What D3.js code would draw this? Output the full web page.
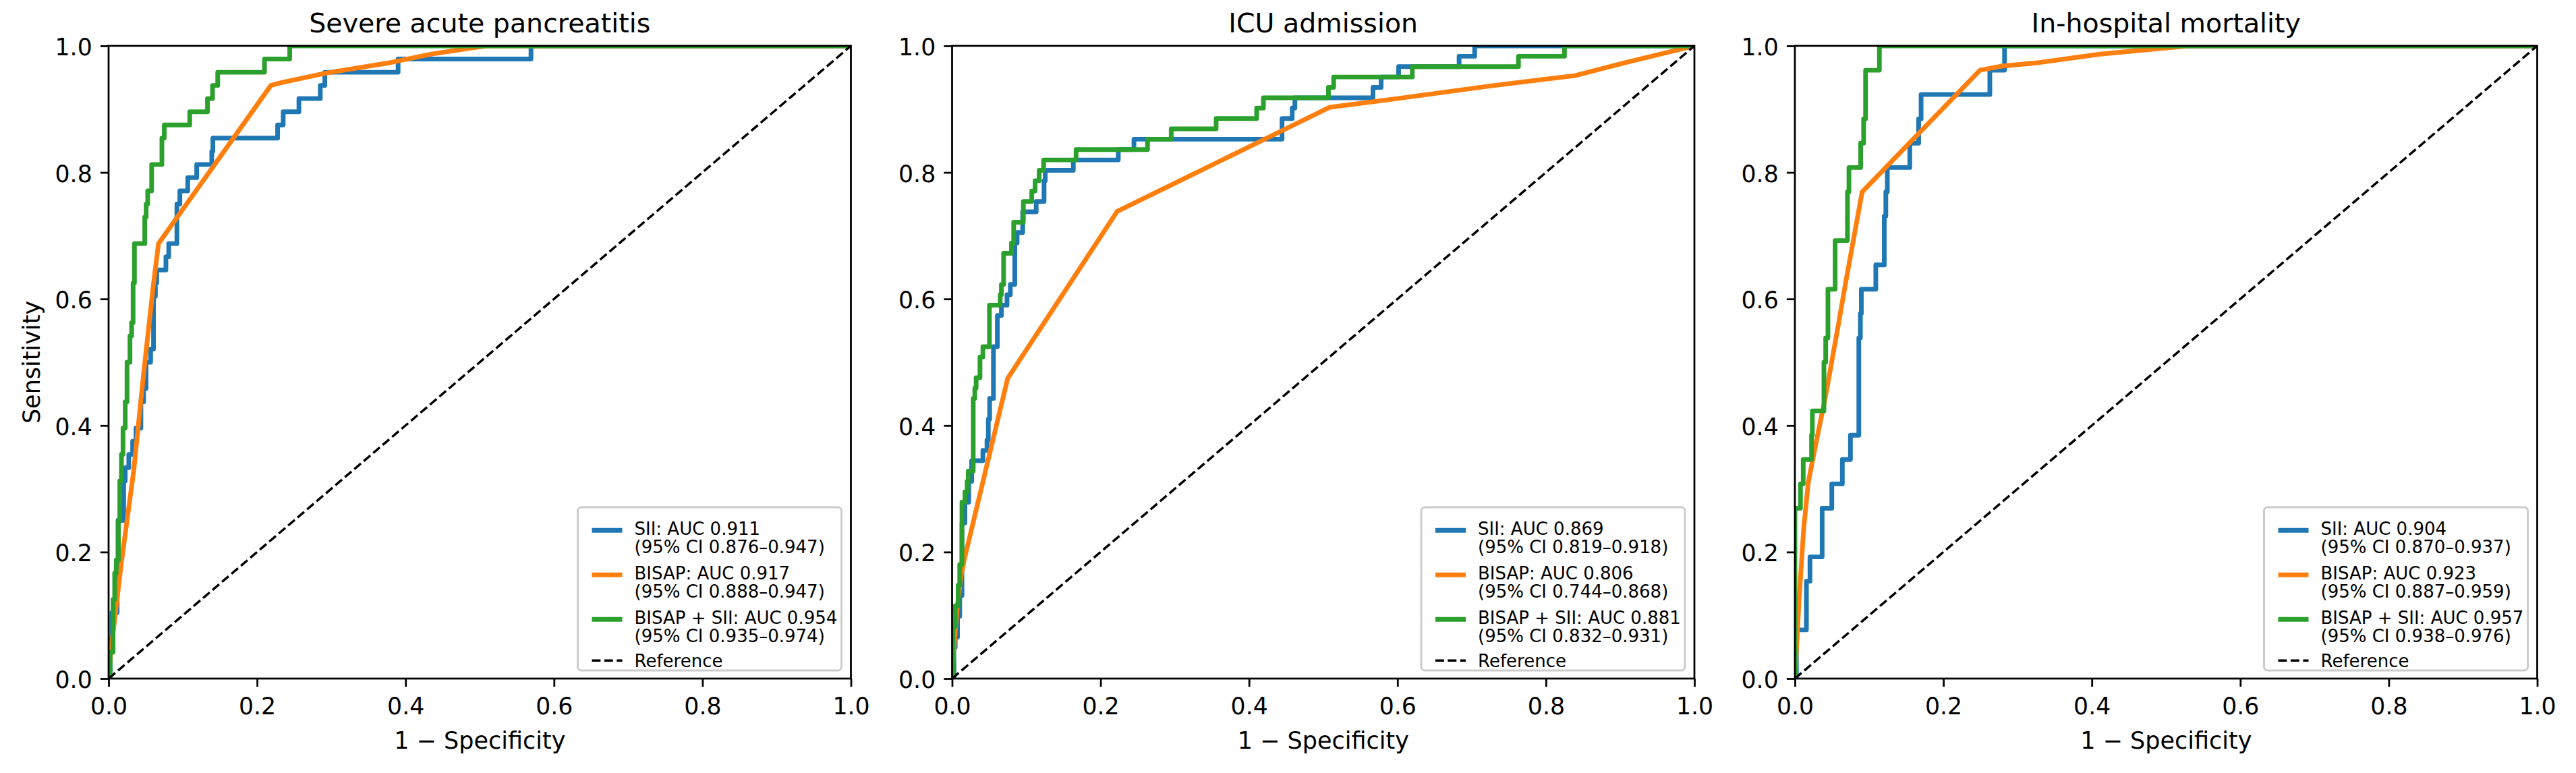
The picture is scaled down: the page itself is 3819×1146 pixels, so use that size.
<!DOCTYPE html>
<html><head><meta charset="utf-8">
<script src="https://cdn.jsdelivr.net/npm/d3@7"></script>
<style>
html,body{margin:0;padding:0;background:#fff;}
svg{display:block;font-family:"DejaVu Sans";}
</style>
</head><body>
<svg id="chart" width="3819" height="1146"></svg>
<script>
// ---------------- DATA ----------------
const panelTitles = ["Severe acute pancreatitis", "ICU admission", "In-hospital mortality"];
const tickValues = [0, 0.2, 0.4, 0.6, 0.8, 1.0];
const tickLabels = ["0.0", "0.2", "0.4", "0.6", "0.8", "1.0"];
const seriesNames = ["SII", "BISAP", "BISAP + SII"];
const seriesColors = ["#1f77b4", "#ff7f0e", "#2ca02c"];
const referenceLine = [[0, 0], [1, 1]];

// Severe acute pancreatitis: [1 - specificity, sensitivity]
const sapSII = [[0,0],[0.0021,0],[0.0021,0.0625],[0.0045,0.0625],[0.0045,0.1042],[0.0115,0.1042],[0.0115,0.1458],[0.0127,0.1458],[0.0127,0.25],[0.0203,0.25],[0.0203,0.3125],[0.0224,0.3125],[0.0224,0.3333],[0.0272,0.3333],[0.0272,0.3542],[0.0324,0.3542],[0.0324,0.375],[0.0369,0.375],[0.0369,0.3958],[0.0435,0.3958],[0.0435,0.4375],[0.0472,0.4375],[0.0472,0.4583],[0.0505,0.4583],[0.0505,0.5],[0.0566,0.5],[0.0566,0.5208],[0.0605,0.5208],[0.0605,0.6042],[0.063,0.6042],[0.063,0.625],[0.0648,0.625],[0.0648,0.6458],[0.0772,0.6458],[0.0772,0.6667],[0.081,0.6667],[0.081,0.6875],[0.092,0.6875],[0.092,0.75],[0.096,0.75],[0.096,0.7708],[0.1066,0.7708],[0.1066,0.7917],[0.1187,0.7917],[0.1187,0.8125],[0.139,0.8125],[0.139,0.8333],[0.1405,0.8333],[0.1405,0.8542],[0.2277,0.8542],[0.2277,0.875],[0.2352,0.875],[0.2352,0.8958],[0.2564,0.8958],[0.2564,0.9167],[0.2852,0.9167],[0.2852,0.9375],[0.2913,0.9375],[0.2913,0.9583],[0.39,0.9583],[0.39,0.9792],[0.569,0.9792],[0.569,1],[1,1]];
const sapBISAP = [[0,0],[0.0036,0.049],[0.0173,0.184],[0.034,0.33],[0.047,0.48],[0.0602,0.621],[0.0672,0.6875],[0.2186,0.9375],[0.2322,0.9417],[0.2928,0.957],[0.3745,0.9725],[0.435,0.987],[0.508,1],[1,1]];
const sapCombo = [[0,0],[0.0021,0],[0.0021,0.0417],[0.006,0.0417],[0.006,0.125],[0.0082,0.125],[0.0082,0.1667],[0.0103,0.1667],[0.0103,0.1875],[0.0133,0.1875],[0.0133,0.25],[0.0151,0.25],[0.0151,0.3125],[0.0173,0.3125],[0.0173,0.3542],[0.0194,0.3542],[0.0194,0.3958],[0.0224,0.3958],[0.0224,0.4375],[0.0248,0.4375],[0.0248,0.5],[0.0288,0.5],[0.0288,0.5417],[0.031,0.5417],[0.031,0.5625],[0.033,0.5625],[0.033,0.625],[0.0348,0.625],[0.0348,0.6875],[0.0487,0.6875],[0.0487,0.7292],[0.0506,0.7292],[0.0506,0.75],[0.0527,0.75],[0.0527,0.7708],[0.058,0.7708],[0.058,0.8125],[0.0718,0.8125],[0.0718,0.8542],[0.075,0.8542],[0.075,0.875],[0.1093,0.875],[0.1093,0.8958],[0.1332,0.8958],[0.1332,0.9167],[0.14,0.9167],[0.14,0.9375],[0.147,0.9375],[0.147,0.9583],[0.21,0.9583],[0.21,0.9792],[0.244,0.9792],[0.244,1],[1,1]];

// ICU admission
const icuSII = [[0,0],[0.0025,0],[0.0025,0.0492],[0.0042,0.0492],[0.0042,0.0656],[0.0073,0.0656],[0.0073,0.0984],[0.0103,0.0984],[0.0103,0.1311],[0.0133,0.1311],[0.0133,0.2459],[0.0173,0.2459],[0.0173,0.2787],[0.0224,0.2787],[0.0224,0.3115],[0.0264,0.3115],[0.0264,0.3443],[0.0415,0.3443],[0.0415,0.3607],[0.047,0.3607],[0.047,0.377],[0.0488,0.377],[0.0488,0.4098],[0.0506,0.4098],[0.0506,0.4426],[0.0557,0.4426],[0.0557,0.5246],[0.061,0.5246],[0.061,0.5738],[0.0664,0.5738],[0.0664,0.5902],[0.074,0.5902],[0.074,0.6066],[0.0785,0.6066],[0.0785,0.623],[0.0845,0.623],[0.0845,0.6885],[0.0876,0.6885],[0.0876,0.7049],[0.0951,0.7049],[0.0951,0.7377],[0.1133,0.7377],[0.1133,0.7541],[0.1239,0.7541],[0.1239,0.7869],[0.1255,0.7869],[0.1255,0.8033],[0.1633,0.8033],[0.1633,0.8197],[0.2239,0.8197],[0.2239,0.8361],[0.245,0.8361],[0.245,0.8525],[0.4445,0.8525],[0.4445,0.8852],[0.4582,0.8852],[0.4582,0.9016],[0.4618,0.9016],[0.4618,0.918],[0.567,0.918],[0.567,0.9344],[0.578,0.9344],[0.578,0.9508],[0.6015,0.9508],[0.6015,0.9672],[0.683,0.9672],[0.683,0.9836],[0.704,0.9836],[0.704,1],[1,1]];
const icuBISAP = [[0,0],[0.0027,0.053],[0.0073,0.117],[0.0118,0.16],[0.0164,0.188],[0.0749,0.4745],[0.2224,0.7384],[0.509,0.903],[0.6015,0.917],[0.727,0.937],[0.839,0.953],[0.905,0.973],[1,1]];
const icuCombo = [[0,0],[0.0012,0],[0.0012,0.082],[0.0042,0.082],[0.0042,0.1148],[0.0082,0.1148],[0.0082,0.1475],[0.0103,0.1475],[0.0103,0.1803],[0.0133,0.1803],[0.0133,0.2787],[0.0173,0.2787],[0.0173,0.2951],[0.0203,0.2951],[0.0203,0.3115],[0.0218,0.3115],[0.0218,0.3279],[0.0285,0.3279],[0.0285,0.4426],[0.0306,0.4426],[0.0306,0.459],[0.0324,0.459],[0.0324,0.4754],[0.0376,0.4754],[0.0376,0.5082],[0.0415,0.5082],[0.0415,0.5246],[0.0503,0.5246],[0.0503,0.5902],[0.0648,0.5902],[0.0648,0.6066],[0.0664,0.6066],[0.0664,0.623],[0.0694,0.623],[0.0694,0.6721],[0.08,0.6721],[0.08,0.6885],[0.083,0.6885],[0.083,0.7213],[0.096,0.7213],[0.096,0.7541],[0.1073,0.7541],[0.1073,0.7705],[0.1118,0.7705],[0.1118,0.7869],[0.1173,0.7869],[0.1173,0.8033],[0.1233,0.8033],[0.1233,0.8197],[0.167,0.8197],[0.167,0.8361],[0.2633,0.8361],[0.2633,0.8525],[0.2952,0.8525],[0.2952,0.8689],[0.3557,0.8689],[0.3557,0.8852],[0.4103,0.8852],[0.4103,0.9016],[0.4194,0.9016],[0.4194,0.918],[0.507,0.918],[0.507,0.9344],[0.514,0.9344],[0.514,0.9508],[0.62,0.9508],[0.62,0.9672],[0.763,0.9672],[0.763,0.9836],[0.825,0.9836],[0.825,1],[1,1]];

// In-hospital mortality
const morSII = [[0,0],[0.002,0],[0.002,0.0769],[0.0155,0.0769],[0.0155,0.1538],[0.0203,0.1538],[0.0203,0.1923],[0.0367,0.1923],[0.0367,0.2692],[0.0497,0.2692],[0.0497,0.3077],[0.0639,0.3077],[0.0639,0.3462],[0.0748,0.3462],[0.0748,0.3846],[0.0861,0.3846],[0.0861,0.5385],[0.0882,0.5385],[0.0882,0.5769],[0.0895,0.5769],[0.0895,0.6154],[0.109,0.6154],[0.109,0.6538],[0.1204,0.6538],[0.1204,0.7308],[0.1225,0.7308],[0.1225,0.7692],[0.1245,0.7692],[0.1245,0.8077],[0.1548,0.8077],[0.1548,0.8462],[0.1667,0.8462],[0.1667,0.8846],[0.17,0.8846],[0.17,0.9231],[0.2626,0.9231],[0.2626,0.9615],[0.2824,0.9615],[0.2824,1],[1,1]];
const morBISAP = [[0,0],[0.0058,0.128],[0.0118,0.2365],[0.0179,0.3085],[0.024,0.3462],[0.033,0.3986],[0.0406,0.442],[0.0588,0.5608],[0.0675,0.62],[0.0906,0.7692],[0.2493,0.9615],[0.279,0.968],[0.325,0.973],[0.411,0.987],[0.53,1],[1,1]];
const morCombo = [[0,0],[0,0.2692],[0.0075,0.2692],[0.0075,0.3077],[0.0112,0.3077],[0.0112,0.3462],[0.0224,0.3462],[0.0224,0.3846],[0.0235,0.3846],[0.0235,0.4231],[0.0391,0.4231],[0.0391,0.5],[0.0415,0.5],[0.0415,0.5385],[0.0445,0.5385],[0.0445,0.6154],[0.0542,0.6154],[0.0542,0.6923],[0.0708,0.6923],[0.0708,0.7692],[0.0728,0.7692],[0.0728,0.8077],[0.0886,0.8077],[0.0886,0.8462],[0.0926,0.8462],[0.0926,0.8846],[0.0952,0.8846],[0.0952,0.9615],[0.1138,0.9615],[0.1138,1],[1,1]];

// legend values
const aucSII   = ["0.911", "0.869", "0.904"];
const ciSII    = ["0.876–0.947", "0.819–0.918", "0.870–0.937"];
const aucBISAP = ["0.917", "0.806", "0.923"];
const ciBISAP  = ["0.888–0.947", "0.744–0.868", "0.887–0.959"];
const aucCombo = ["0.954", "0.881", "0.957"];
const ciCombo  = ["0.935–0.974", "0.832–0.931", "0.938–0.976"];

const panelSeries = [[sapSII, sapBISAP, sapCombo], [icuSII, icuBISAP, icuCombo], [morSII, morBISAP, morCombo]];
const panelAUC = [aucSII, aucBISAP, aucCombo];
const panelCI = [ciSII, ciBISAP, ciCombo];

// ---------------- LAYOUT ----------------
const panelLeft = [161, 1411.5, 2661];
const plotW = 1100.5, plotTop = 68, plotBottom = 1006;
const FONT = "DejaVu Sans";
const tickLen = 12.15, tickW = 2.78, spineW = 2.78;
const rocW = 6.94, refW = 3.47, refDash = "12.85,5.56";

const svg = d3.select("#chart");

panelTitles.forEach((title, i) => {
  const g = svg.append("g").attr("transform", `translate(${panelLeft[i]},0)`);
  const x = d3.scaleLinear().domain([0, 1]).range([0, plotW]);
  const y = d3.scaleLinear().domain([0, 1]).range([plotBottom, plotTop]);

  const clipId = "clip" + i;
  svg.append("defs").append("clipPath").attr("id", clipId)
    .append("rect").attr("x", 0).attr("y", plotTop).attr("width", plotW).attr("height", plotBottom - plotTop);

  const line = d3.line().x(d => x(d[0])).y(d => y(d[1]));
  const plot = g.append("g").attr("clip-path", `url(#${clipId})`);

  panelSeries[i].forEach((data, k) => {
    plot.append("path").datum(data)
      .attr("d", line)
      .attr("fill", "none")
      .attr("stroke", seriesColors[k])
      .attr("stroke-width", rocW)
      .attr("stroke-linejoin", "round")
      .attr("stroke-linecap", "square");
  });
  plot.append("path").datum(referenceLine)
    .attr("d", line)
    .attr("fill", "none")
    .attr("stroke", "#000")
    .attr("stroke-width", refW)
    .attr("stroke-dasharray", refDash);

  // axes
  const gx = g.append("g").attr("transform", `translate(0,${plotBottom})`)
    .call(d3.axisBottom(x).tickValues(tickValues).tickFormat((d, j) => tickLabels[j])
      .tickSize(tickLen).tickPadding(tickLen).tickSizeOuter(0));
  gx.select(".domain").remove();
  gx.selectAll(".tick line").attr("stroke", "#000").attr("stroke-width", tickW);
  gx.selectAll(".tick text").attr("dy", null).attr("y", 53)
    .attr("fill", "#000").style("font-family", FONT).style("font-size", "34.7px");

  const gy = g.append("g")
    .call(d3.axisLeft(y).tickValues(tickValues).tickFormat((d, j) => tickLabels[j])
      .tickSize(tickLen).tickPadding(tickLen).tickSizeOuter(0));
  gy.select(".domain").remove();
  gy.selectAll(".tick line").attr("stroke", "#000").attr("stroke-width", tickW);
  gy.selectAll(".tick text").attr("dy", null).attr("y", 13.5)
    .attr("fill", "#000").style("font-family", FONT).style("font-size", "34.7px");

  // spines
  g.append("rect").attr("x", x(0)).attr("y", y(1)).attr("width", x(1) - x(0)).attr("height", y(0) - y(1))
    .attr("fill", "none").attr("stroke", "#000").attr("stroke-width", spineW);

  // title and labels
  g.append("text").attr("x", plotW / 2).attr("y", 47.5).attr("text-anchor", "middle")
    .style("font-family", FONT).style("font-size", "39.5px").attr("fill", "#000").text(title);
  g.append("text").attr("x", plotW / 2).attr("y", 1110).attr("text-anchor", "middle")
    .style("font-family", FONT).style("font-size", "35px").attr("fill", "#000").text("1 \u2212 Specificity");
  if (i === 0) {
    g.append("text").attr("transform", `translate(${59 - panelLeft[0]},${(plotTop + plotBottom) / 2}) rotate(-90)`)
      .attr("text-anchor", "middle")
      .style("font-family", FONT).style("font-size", "35px").attr("fill", "#000").text("Sensitivity");
  }

  // legend
  const lw = 391, lh = 242;
  const lg = g.append("g").attr("transform", `translate(${plotW - 14 - lw},${plotBottom - 12 - lh})`);
  lg.append("rect").attr("width", lw).attr("height", lh).attr("rx", 5.2).attr("ry", 5.2)
    .attr("fill", "#fff").attr("fill-opacity", 0.8).attr("stroke", "#cccccc").attr("stroke-width", 3);
  seriesNames.forEach((name, k) => {
    const base = 41.3 + 66 * k;
    lg.append("line").attr("x1", 21).attr("x2", 66).attr("y1", base - 7).attr("y2", base - 7)
      .attr("stroke", seriesColors[k]).attr("stroke-width", rocW);
    const t = lg.append("text").style("font-family", FONT).style("font-size", "26px").attr("fill", "#000");
    t.append("tspan").attr("x", 84).attr("y", base).text(`${name}: AUC ${panelAUC[k][i]}`);
    t.append("tspan").attr("x", 84).attr("y", base + 27).text(`(95% CI ${panelCI[k][i]})`);
  });
  lg.append("line").attr("x1", 21).attr("x2", 66).attr("y1", 227.3).attr("y2", 227.3)
    .attr("stroke", "#000").attr("stroke-width", refW).attr("stroke-dasharray", refDash);
  lg.append("text").attr("x", 84).attr("y", 237.3)
    .style("font-family", FONT).style("font-size", "26px").attr("fill", "#000").text("Reference");
});
</script>
</body></html>
